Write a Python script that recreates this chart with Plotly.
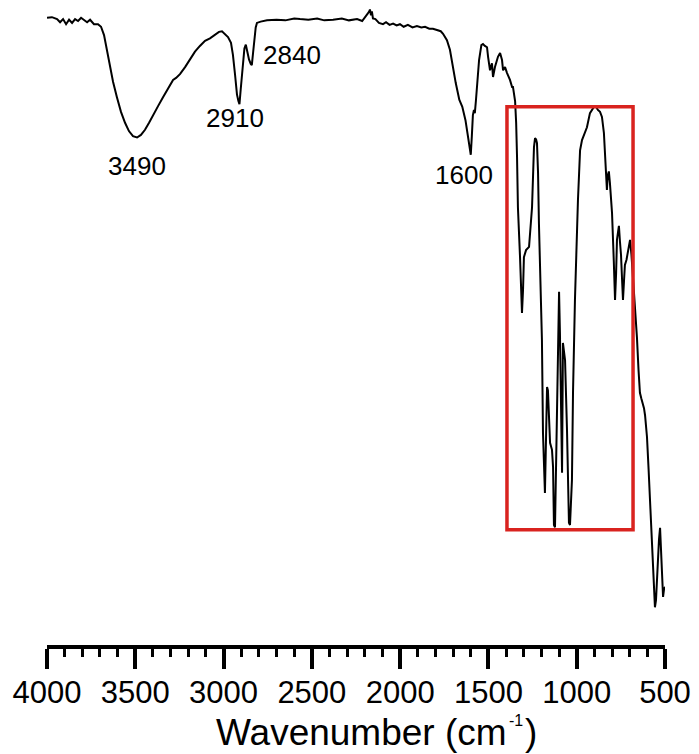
import plotly.graph_objects as go

# FTIR spectrum: wavenumber (cm^-1) vs. transmittance (arbitrary %, y axis hidden)
wavenumber = [
    4000, 3972, 3943, 3926, 3909, 3892, 3875, 3858, 3841, 3824, 3807, 3790, 3773, 3756,
    3734, 3711, 3694, 3677, 3666, 3655, 3643, 3626, 3604, 3581, 3558, 3536, 3513, 3490,
    3468, 3445, 3422, 3400, 3371, 3343, 3315, 3286, 3269, 3247, 3218, 3190, 3162, 3134,
    3105, 3077, 3049, 3026, 3009, 2992, 2975, 2958, 2947, 2935, 2924, 2916, 2910, 2903,
    2893, 2882, 2874, 2866, 2856, 2846, 2840, 2833, 2826, 2818, 2811, 2790, 2754, 2700,
    2650, 2600, 2567, 2520, 2470, 2430, 2380, 2330, 2290, 2244, 2215, 2199, 2185, 2175,
    2171, 2165, 2160, 2154, 2140, 2120, 2097, 2080, 2060, 2040, 2020, 2001, 1980, 1956,
    1930, 1905, 1880, 1859, 1835, 1814, 1786, 1770, 1757, 1735, 1718, 1700, 1685, 1665,
    1648, 1630, 1615, 1605, 1600, 1594, 1588, 1582, 1577, 1571, 1563, 1553, 1540, 1531,
    1520, 1508, 1502, 1491, 1480, 1474, 1463, 1446, 1434, 1423, 1417, 1406, 1395, 1378,
    1366, 1361, 1349, 1343, 1338, 1333, 1321, 1316, 1310, 1304, 1299, 1287, 1270, 1253,
    1248, 1242, 1236, 1230, 1225, 1219, 1214, 1202, 1197, 1191, 1185, 1180, 1174, 1168,
    1163, 1157, 1151, 1140, 1134, 1129, 1123, 1117, 1112, 1106, 1100, 1095, 1089, 1083,
    1078, 1072, 1066, 1055, 1044, 1038, 1027, 1021, 1010, 993, 981, 970, 955, 942,
    925, 908, 900, 891, 880, 868, 857, 846, 840, 834, 829, 824, 818, 812,
    806, 800, 790, 783, 777, 772, 766, 761, 755, 749, 743, 738, 732, 727,
    718, 710, 704, 698, 690, 681, 670, 659, 650, 642, 634, 625, 619, 613,
    602, 593, 585, 576, 568, 562, 557, 551, 545, 540, 534, 528, 522, 517,
    511, 506, 500,
]
transmittance = [
    98.0, 98.1, 97.8, 97.3, 97.8, 97.0, 97.7, 97.2, 97.8, 97.5, 98.0, 97.7, 97.3, 97.7,
    97.0, 97.0, 96.6, 95.3, 93.8, 91.9, 90.3, 88.0, 85.6, 83.3, 81.6, 80.3, 79.5, 79.3,
    79.7, 80.5, 81.6, 82.8, 84.2, 85.6, 86.9, 88.3, 88.6, 89.2, 90.3, 91.6, 92.7, 93.6,
    94.4, 94.8, 95.3, 95.8, 95.9, 95.5, 95.0, 94.1, 92.2, 89.1, 86.0, 85.0, 84.5, 86.8,
    90.5, 93.2, 93.8, 92.8, 91.5, 90.8, 90.6, 92.5, 95.0, 96.5, 97.2, 97.4, 97.6, 97.7,
    97.6, 97.9, 97.8, 97.7, 97.9, 97.6, 97.7, 97.9, 97.6, 97.8, 97.5, 98.2, 98.6, 99.0,
    99.3, 98.4, 99.0, 97.9, 97.8, 97.2, 97.0, 97.3, 96.9, 97.1, 96.8, 97.0, 96.6, 96.9,
    96.5, 96.7, 96.5, 96.6, 96.3, 96.3, 96.1, 95.9, 95.5, 94.5, 93.0, 90.0, 87.8, 85.2,
    84.1, 82.0, 79.0, 77.0, 76.6, 79.5, 82.8, 83.6, 83.1, 85.0, 88.5, 91.4, 93.75, 93.9,
    93.6, 93.4, 91.9, 89.8, 90.9, 88.75, 90.3, 91.9, 92.5, 91.4, 89.8, 90.3, 89.4, 88.3,
    87.2, 87.2, 85.0, 81.6, 76.3, 68.4, 60.6, 54.4, 51.9, 55.5, 60.6, 61.7, 62.2, 68.4,
    73.75, 77.8, 79.2, 79.0, 78.4, 73.75, 65.9, 54.4, 47.7, 33.1, 26.0, 23.75, 32.0, 40.3,
    39.8, 35.0, 31.6, 30.5, 27.8, 18.75, 18.4, 28.0, 38.3, 48.0, 55.2, 48.75, 38.0, 26.9,
    47.2, 46.0, 44.5, 33.6, 19.1, 18.75, 25.8, 39.4, 53.9, 69.5, 77.3, 78.9, 80.0, 80.9,
    83.1, 83.9, 84.2, 84.1, 83.6, 83.3, 82.5, 80.0, 77.3, 73.5, 71.1, 73.4, 74.0, 72.2,
    69.5, 67.5, 60.0, 53.9, 58.0, 63.3, 64.5, 65.5, 63.0, 60.9, 57.0, 53.9, 57.0, 59.4,
    60.2, 61.7, 62.5, 63.3, 61.0, 57.5, 53.1, 48.1, 43.0, 39.4, 38.5, 37.8, 37.0, 35.9,
    32.5, 27.5, 23.1, 18.0, 13.3, 9.0, 5.9, 7.0, 10.5, 14.4, 16.5, 18.3, 14.0, 10.2,
    7.5, 8.6, 9.1,
]

# Labelled bands: (label, label x in cm^-1, label y in % units)
peak_labels = ["3490", "2910", "2840", "1600"]
peak_label_x = [3490, 2935, 2615, 1640]
peak_label_y = [74.8, 82.3, 92.2, 73.4]

# Highlighted fingerprint region
box_wavenumber = [1395, 681]
box_transmittance = [18.0, 84.1]

x_tick_values = [4000, 3500, 3000, 2500, 2000, 1500, 1000, 500]

W, H = 699, 754
L, R, T, B = 47, 34, 5, 109
FONT = "Arial, 'Liberation Sans', sans-serif"

fig = go.Figure()
fig.add_trace(go.Scatter(
    x=wavenumber, y=transmittance, mode="lines",
    line=dict(color="black", width=2), hoverinfo="skip", showlegend=False,
))

for txt, xv, yv in zip(peak_labels, peak_label_x, peak_label_y):
    fig.add_annotation(x=xv, y=yv, xref="x", yref="y", text=txt, showarrow=False,
                       font=dict(family=FONT, size=26, color="black"),
                       xanchor="center", yanchor="middle")

fig.add_shape(type="rect", xref="x", yref="y",
              x0=box_wavenumber[0], x1=box_wavenumber[1],
              y0=box_transmittance[0], y1=box_transmittance[1],
              line=dict(color="#d9231f", width=3.5))

plot_w = W - L - R
plot_h = H - T - B


def px_to_paper(px, py):
    return (px - L) / plot_w, (H - B - py) / plot_h


# Axis title built from pieces so the exponent sits in the gap before ")"
tx, ty = px_to_paper(508, 754)
fig.add_annotation(x=tx, y=ty, xref="paper", yref="paper", text="Wavenumber (cm",
                   showarrow=False, xanchor="right", yanchor="bottom", borderpad=0,
                   font=dict(family=FONT, size=37, color="black"))
px_, py_ = px_to_paper(531, 754)
fig.add_annotation(x=px_, y=py_, xref="paper", yref="paper", text=")",
                   showarrow=False, xanchor="center", yanchor="bottom", borderpad=0,
                   font=dict(family=FONT, size=37, color="black"))
sx, sy = px_to_paper(516, 720)
fig.add_annotation(x=sx, y=sy, xref="paper", yref="paper", text="-1",
                   showarrow=False, xanchor="center", yanchor="middle", borderpad=0,
                   font=dict(family=FONT, size=16, color="black"))

fig.update_xaxes(
    range=[4000, 500], tickvals=x_tick_values, ticktext=[str(v) for v in x_tick_values],
    showline=True, linecolor="black", linewidth=4, mirror=False,
    ticks="outside", ticklen=20, tickwidth=4, tickcolor="black",
    minor=dict(dtick=100, tick0=500, ticks="outside", ticklen=8, tickwidth=3, tickcolor="black"),
    showgrid=False, zeroline=False, ticklabelstandoff=-3,
    tickfont=dict(family=FONT, size=31, color="black"),
)
fig.update_yaxes(visible=False, range=[0, 100], fixedrange=True)

fig.update_layout(
    width=W, height=H, margin=dict(l=L, r=R, t=T, b=B, pad=0),
    paper_bgcolor="white", plot_bgcolor="white", showlegend=False,
)

fig.write_html("out.html")
